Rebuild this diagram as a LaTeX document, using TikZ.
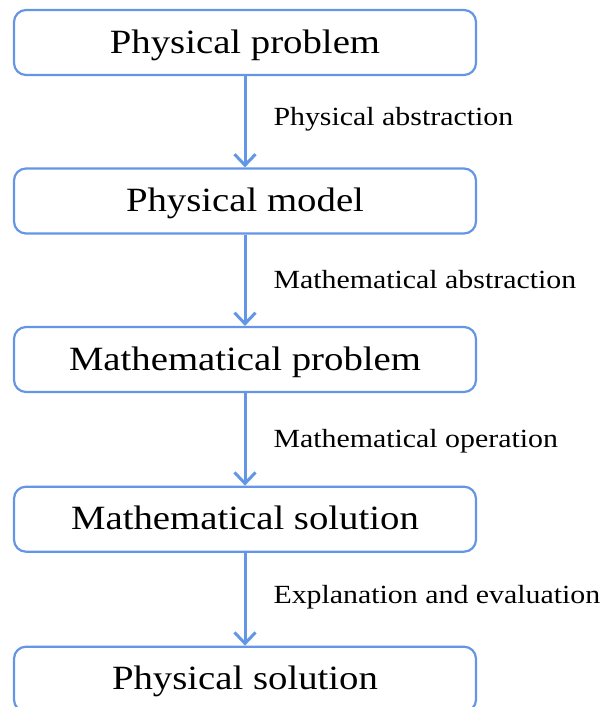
\documentclass[tikz,border=0pt]{standalone}
\usepackage{fontspec}
\setmainfont{Liberation Serif}[FakeStretch=1.14]
\usetikzlibrary{arrows.meta}
\definecolor{flowblue}{RGB}{100,150,230}
\tikzset{
  stagebox/.style={draw=flowblue, line width=2.2pt, rounded corners=12pt, fill=white,
    minimum width=462pt, minimum height=65pt, inner sep=0pt,
    text height=21pt, text depth=0pt,
    font=\fontsize{34pt}{40pt}\selectfont},
  flowarrow/.style={draw=flowblue, line width=3pt, -{Straight Barb[length=11pt,width=21pt,line width=3pt]}},
  steplabel/.style={anchor=base west, inner sep=0pt, xshift=27pt, font=\fontsize{26.2pt}{30pt}\selectfont}
}
\begin{document}
\begin{tikzpicture}[x=1pt,y=1pt]
\useasboundingbox (0,0) rectangle (602,-707);
\node[stagebox] (b1) at (245,-42.5) {Physical problem};
\node[stagebox] (b2) at (245,-201) {Physical model};
\node[stagebox] (b3) at (245,-359.5) {Mathematical problem};
\node[stagebox] (b4) at (245,-519.2) {Mathematical solution};
\node[stagebox] (b5) at (245,-679.2) {Physical solution};
\draw[flowarrow] (b1) -- node[steplabel, yshift=-3.5pt] {Physical abstraction} (b2);
\draw[flowarrow] (b2) -- node[steplabel, yshift=-8pt] {Mathematical abstraction} (b3);
\draw[flowarrow] (b3) -- node[steplabel, yshift=-8.5pt] {Mathematical operation} (b4);
\draw[flowarrow] (b4) -- node[steplabel, yshift=-4pt] {Explanation and evaluation} (b5);
\end{tikzpicture}
\end{document}
